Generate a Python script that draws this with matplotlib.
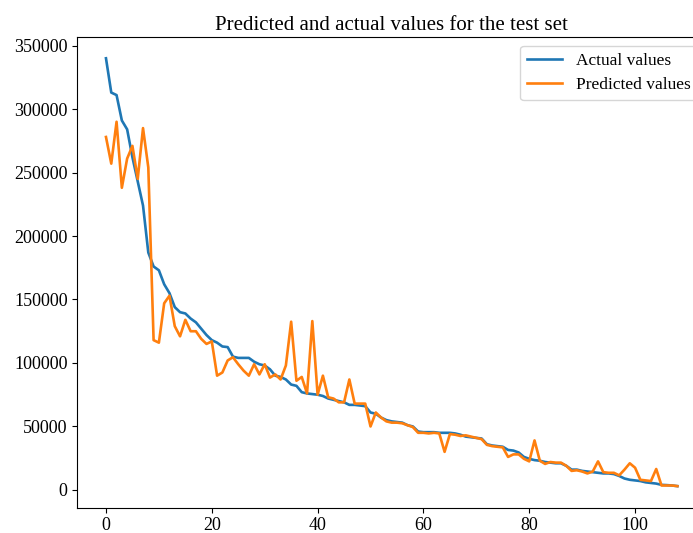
import numpy as np
import matplotlib
matplotlib.use('Agg')
import matplotlib.pyplot as plt

plt.rcParams['font.family'] = ['Liberation Serif', 'DejaVu Serif']

actual = [340000, 313000, 311000, 291000, 284000, 262000, 243000, 224000, 187000, 176000,
          173000, 162000, 155000, 144000, 140000, 139000, 135000, 132000, 127000, 122000,
          118000, 116000, 113000, 112500, 105000, 104000, 104000, 104000, 101000, 99000,
          98000, 95000, 90000, 89000, 87000, 83000, 82000, 77000, 76000, 75500,
          75000, 74000, 72000, 71000, 70000, 69000, 67000, 67000, 66500, 66000,
          61000, 60000, 57000, 55000, 54000, 53500, 53000, 51000, 50000, 46000,
          45500, 45500, 45500, 45000, 45000, 45000, 44500, 43500, 42000, 41500,
          41000, 40500, 36000, 35000, 34500, 34000, 31500, 31000, 29500, 26000,
          24500, 23500, 23000, 22000, 21500, 21000, 21000, 19000, 16000, 16000,
          15000, 14500, 14000, 13500, 13000, 13000, 12500, 11000, 9000, 8000,
          7500, 7000, 6000, 5500, 5000, 4000, 3800, 3500, 3000]

predicted = [278000, 257000, 290000, 238000, 261000, 271000, 245000, 285000, 254000, 118000,
             116000, 147000, 153000, 129000, 121000, 134000, 125000, 125000, 119000, 115000,
             117000, 90000, 92500, 102000, 104500, 99000, 94000, 90000, 99000, 91000,
             99000, 88500, 91000, 87000, 98000, 132500, 86000, 89000, 76000, 133000,
             75000, 90000, 73000, 72000, 69000, 69000, 87000, 68000, 68000, 68000,
             50000, 61000, 57000, 54000, 53000, 53000, 52500, 51000, 49500, 45000,
             45000, 44500, 45000, 44500, 30000, 44000, 43500, 42500, 43000, 42000,
             41000, 40000, 35500, 34500, 34000, 33500, 26000, 28000, 28000, 24500,
             22500, 39000, 23000, 20500, 22000, 21500, 21500, 19000, 15000, 15500,
             14500, 13000, 14500, 22500, 14000, 13500, 13500, 11500, 16000, 21000,
             17500, 8000, 7500, 7000, 16500, 3500, 3500, 3500, 3000]

fig = plt.figure(figsize=(6.93, 5.33), dpi=100)
# the original picture is cut off at the right, so the axes run past the edge
ax = fig.add_axes([0.1117, 0.0478, 0.907, 0.883])
x = np.arange(len(actual))
ax.plot(x, actual, color='#1f77b4', linewidth=1.9, label='Actual values')
ax.plot(x, predicted, color='#ff7f0e', linewidth=1.9, label='Predicted values')
ax.set_title('Predicted and actual values for the test set', fontsize=15, pad=5)
ax.tick_params(labelsize=13)
ax.legend(loc='upper right', fontsize=12.5)
fig.savefig('out.png', dpi=100)
